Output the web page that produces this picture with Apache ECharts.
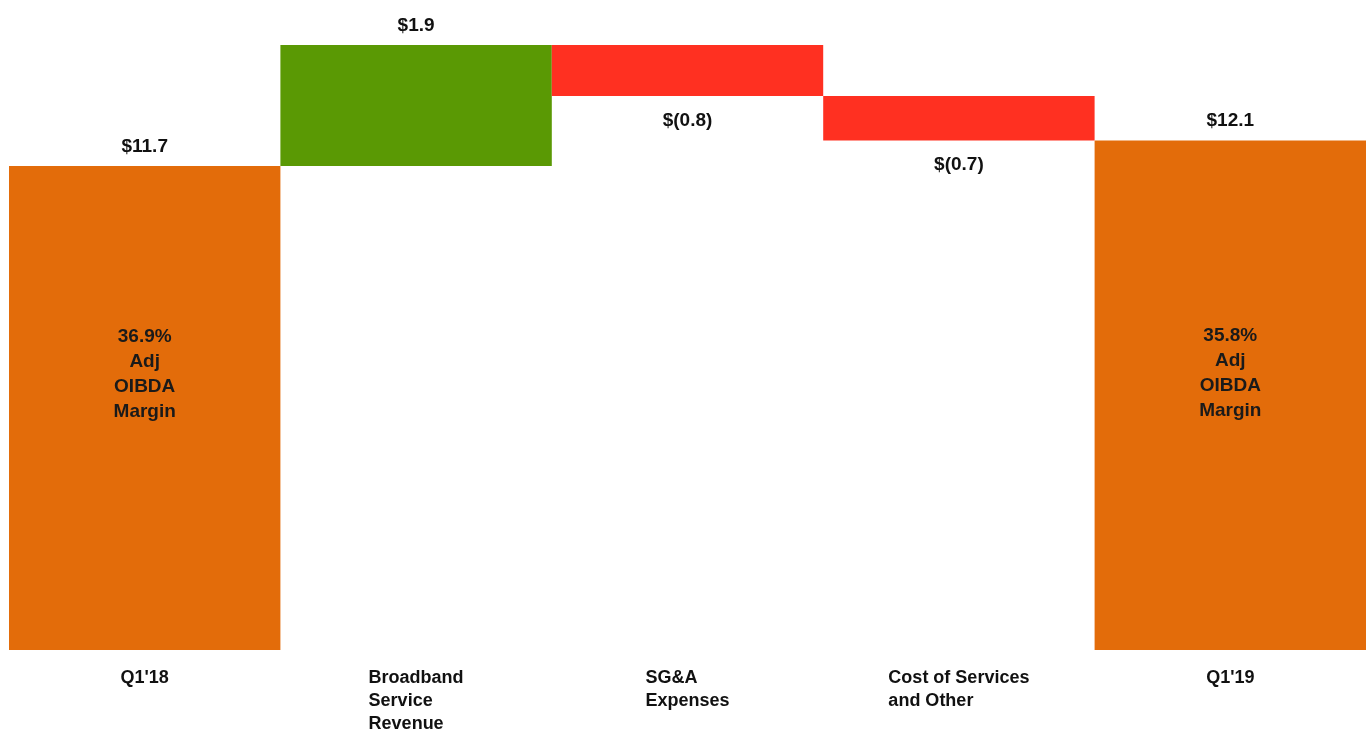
<!DOCTYPE html>
<html>
<head>
<meta charset="utf-8">
<script src="https://cdn.jsdelivr.net/npm/echarts@6/dist/echarts.min.js"></script>
<style>
html,body{margin:0;padding:0;background:#fff;}
#chart{width:1372px;height:735px;}
</style>
</head>
<body>
<div id="chart"></div>
<script>
// ---- data ----
const categories = ["Q1'18", "Broadband\nService\nRevenue", "SG&A\nExpenses", "Cost of Services\nand Other", "Q1'19"];
const startValue = 11.7;
const changes = [1.9, -0.8, -0.7];
const endValue = 12.1;
const marginLabels = ['36.9%\nAdj\nOIBDA\nMargin', null, null, null, '35.8%\nAdj\nOIBDA\nMargin'];

const COLORS = { total: '#E36C0A', up: '#5A9904', down: '#FF3021' };

// build waterfall from the named arrays
const baseData = [0];
const deltaData = [startValue];
let running = startValue;
changes.forEach(c => {
  const next = +(running + c).toFixed(2);
  baseData.push(Math.min(running, next));
  deltaData.push(Math.abs(c));
  running = next;
});
baseData.push(0);
deltaData.push(endValue);

const signed = [startValue].concat(changes, [endValue]);
function fmt(v, isTotal) {
  if (isTotal) return '$' + v.toFixed(1);
  return v < 0 ? '$(' + Math.abs(v).toFixed(1) + ')' : '$' + v.toFixed(1);
}

const deltaItems = deltaData.map((v, i) => {
  const isTotal = i === 0 || i === deltaData.length - 1;
  const s = signed[i];
  return {
    value: v,
    itemStyle: { color: isTotal ? COLORS.total : (s >= 0 ? COLORS.up : COLORS.down) },
    label: {
      position: (isTotal || s >= 0) ? 'top' : 'bottom',
      distance: (isTotal || s >= 0) ? 10 : 15,
      formatter: fmt(s, isTotal)
    }
  };
});

const marginItems = deltaData.map((v, i) => {
  if (!marginLabels[i]) return '-';
  return {
    value: v,
    label: { offset: [0, i === 0 ? -34 : -22] }
  };
});

const chart = echarts.init(document.getElementById('chart'));
chart.setOption({
  animation: false,
  grid: { left: 9, right: 6, top: 10, bottom: 85 },
  xAxis: {
    type: 'category',
    data: categories,
    axisLine: { show: false },
    axisTick: { show: false },
    splitLine: { show: false },
    axisLabel: {
      interval: 0,
      margin: 17,
      align: 'center',
      formatter: function (v) {
        return v.split('\n').map(l => '{l|' + l + '}').join('\n');
      },
      rich: {
        l: {
          align: 'left',
          fontFamily: 'Liberation Sans, Arial, sans-serif',
          fontSize: 18,
          fontWeight: 'bold',
          lineHeight: 23,
          color: '#111'
        }
      }
    }
  },
  yAxis: {
    type: 'value',
    min: 4.1,
    max: 14.15,
    show: false,
    splitLine: { show: false }
  },
  series: [
    {
      name: 'base',
      type: 'bar',
      stack: 'w',
      data: baseData,
      itemStyle: { color: 'transparent' },
      barWidth: '100%',
      barCategoryGap: '0%',
      barGap: '-100%',
      silent: true
    },
    {
      name: 'delta',
      type: 'bar',
      stack: 'w',
      data: deltaItems,
      barWidth: '100%',
      barCategoryGap: '0%',
      barGap: '-100%',
      label: {
        show: true,
        fontFamily: 'Liberation Sans, Arial, sans-serif',
        fontSize: 19,
        fontWeight: 'bold',
        color: '#111'
      }
    },
    {
      name: 'margin',
      type: 'bar',
      data: marginItems,
      barWidth: '100%',
      barCategoryGap: '0%',
      barGap: '-100%',
      itemStyle: { color: 'transparent' },
      silent: true,
      z: 5,
      label: {
        show: true,
        position: 'inside',
        formatter: function (p) { return marginLabels[p.dataIndex] || ''; },
        fontFamily: 'Liberation Sans, Arial, sans-serif',
        fontSize: 19,
        fontWeight: 'bold',
        lineHeight: 25,
        color: '#1a1a1a'
      }
    }
  ]
});
</script>
</body>
</html>
